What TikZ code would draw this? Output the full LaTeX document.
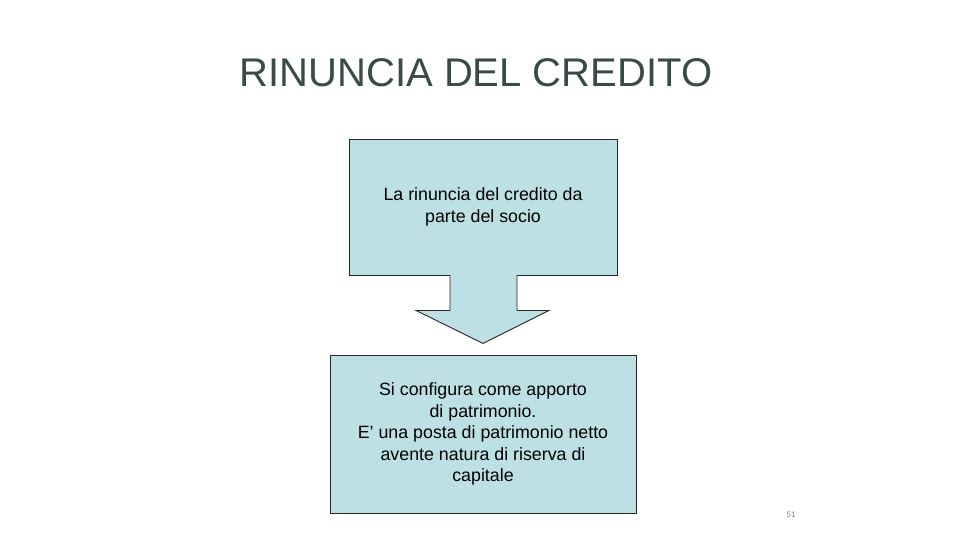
\documentclass[tikz,border=0pt]{standalone}
\usepackage{fontspec}
\setmainfont{Liberation Sans}
\definecolor{boxfill}{RGB}{189,224,228}
\definecolor{titlecol}{RGB}{58,74,71}
\definecolor{pagecol}{RGB}{130,130,130}
\begin{document}
\begin{tikzpicture}[x=1pt,y=-1pt,
  flowbox/.style={draw=black!85,line width=0.9pt,fill=boxfill,align=center,inner sep=0pt,
    font=\fontsize{17.8}{21.5}\selectfont,text=black},
  arrowshape/.style={fill=boxfill},
  arrowline/.style={draw=black!85,line width=0.9pt,line join=miter}]
\useasboundingbox (0,0) rectangle (960,540);
\node[font=\fontsize{40}{46}\selectfont,text=titlecol,anchor=base] (title) at (476,87) {RINUNCIA DEL CREDITO};
\node[flowbox,minimum width=268pt,minimum height=136pt] (a) at (483,207) {La rinuncia del credito da\\parte del socio};
\node[flowbox,minimum width=306pt,minimum height=158pt] (b) at (483,434) {Si configura come apporto\\di patrimonio.\\E’ una posta di patrimonio netto\\avente natura di riserva di\\capitale};
\coordinate (s1) at ([xshift=-33pt]a.south);
\coordinate (s2) at ([xshift=34pt]a.south);
\coordinate (tip) at ([yshift=-68pt]a.south);
\path[arrowshape] ([yshift=1.2pt]s1) -- ++(0,36.2) -- ++(-34,0) -- (tip) -- ([shift={(66,35)}]a.south) -- ([shift={(34,35)}]a.south) -- ([yshift=1.2pt]s2) -- cycle;
\draw[arrowline] ([yshift=0.45pt]s1) -- ([shift={(-33,35)}]a.south) -- ([shift={(-67,35)}]a.south) -- (tip) -- ([shift={(66,35)}]a.south) -- ([shift={(34,35)}]a.south) -- ([yshift=0.45pt]s2);
\node[font=\fontsize{8}{10}\selectfont,text=pagecol] (pg) at (791,515) {51};
\end{tikzpicture}
\end{document}
